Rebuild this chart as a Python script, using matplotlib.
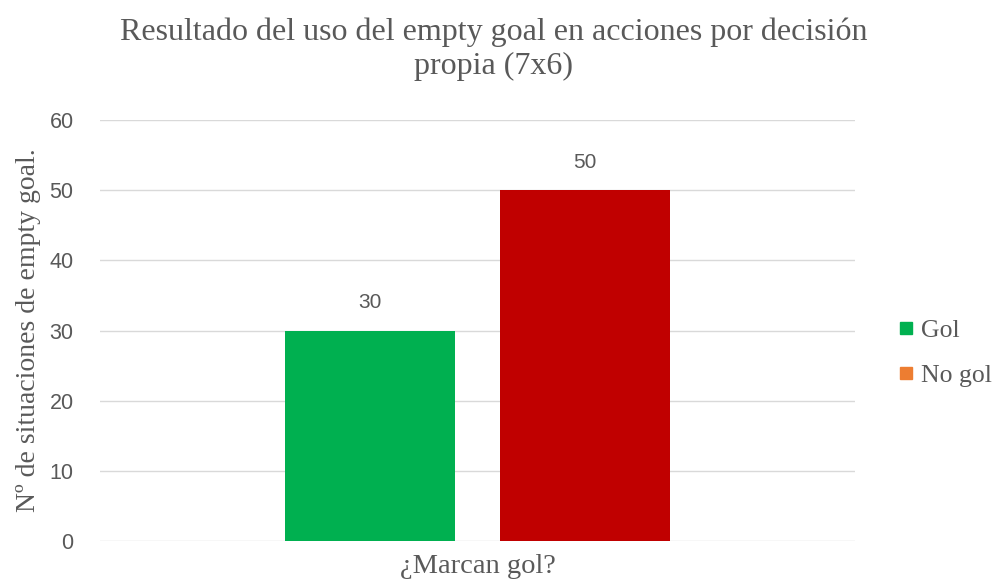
import matplotlib.pyplot as plt
from matplotlib.lines import Line2D

# data
categoria = ["¿Marcan gol?"]
series = ["Gol", "No gol"]
valores = [30, 50]
colores_barras = ["#00b050", "#c00000"]
colores_leyenda = ["#00b050", "#ed7d31"]

gris = "#595959"
serif = "Liberation Serif"
sans = "Liberation Sans"

fig = plt.figure(figsize=(9.93, 5.83), dpi=100)
ax = fig.add_axes([0.1007, 0.072, 0.7603, 0.7222])

offsets = [-0.142, 0.142]
for off, val, col in zip(offsets, valores, colores_barras):
    ax.bar(off, val, width=0.225, color=col, zorder=2)
    ax.text(off, val + 4.0, str(val), ha="center", va="center",
            fontsize=15, color=gris, family=sans)

ax.set_xlim(-0.5, 0.5)
ax.set_ylim(0, 60)
ax.set_yticks(range(0, 61, 10))
ax.set_xticks([0])
ax.set_xticklabels(categoria, fontsize=20.5, color=gris, family=serif)
ax.tick_params(axis="y", labelsize=15.5, labelcolor=gris, length=0, pad=19)
ax.tick_params(axis="x", length=0, pad=9)
for lbl in ax.get_yticklabels():
    lbl.set_family(sans)
ax.grid(axis="y", color="#d9d9d9", linewidth=1, zorder=0)
for s in ax.spines.values():
    s.set_visible(False)

ax.set_ylabel("Nº de situaciones de empty goal.", fontsize=20, color=gris,
              family=serif, labelpad=6)

fig.suptitle("Resultado del uso del empty goal en acciones por decisión\npropia (7x6)",
             x=0.497, y=0.97, fontsize=23, color=gris, family=serif,
             linespacing=1.22)

handles = [Line2D([], [], marker="s", linestyle="none", markersize=9,
                  color=c) for c in colores_leyenda]
leg = fig.legend(handles, series, loc="center left",
                 bbox_to_anchor=(0.902, 0.395), frameon=False,
                 borderpad=0, borderaxespad=0, handlelength=0.8,
                 handletextpad=0.2, labelspacing=0.85,
                 prop={"family": serif, "size": 18.5})
for t in leg.get_texts():
    t.set_color(gris)

fig.savefig("out.png", dpi=100)
